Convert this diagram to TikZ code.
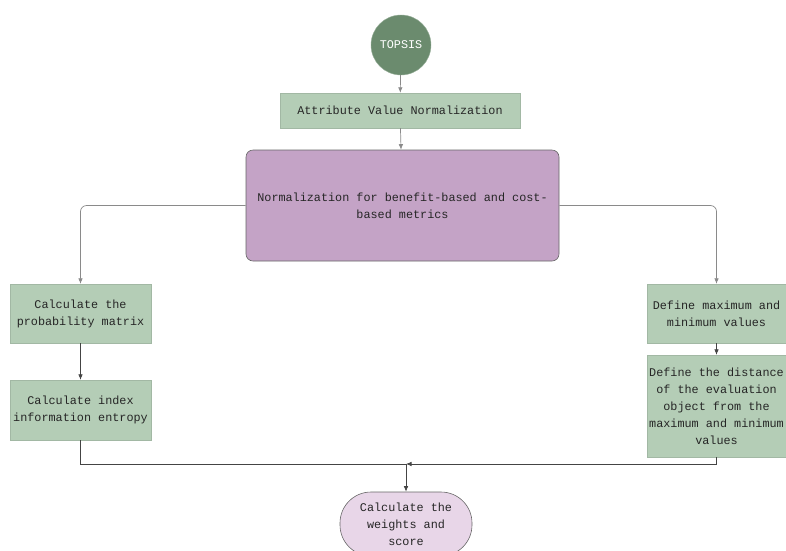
\documentclass[tikz,border=0pt]{standalone}
\usepackage{fontspec}
\setmonofont{Liberation Mono}
\usetikzlibrary{arrows.meta}
\definecolor{dkgreen}{HTML}{6B8B6E}
\definecolor{ltgreen}{HTML}{B4CDB6}
\definecolor{purp}{HTML}{C4A3C6}
\definecolor{ltpurp}{HTML}{E8D6E8}
\definecolor{lgray}{HTML}{8A8A8A}
\definecolor{dgray}{HTML}{444444}
\tikzset{
  base/.style={font=\ttfamily\fontsize{11.8}{17}\selectfont, align=center, inner sep=0pt, text=black!85},
  gbox/.style={base, fill=ltgreen, draw=ltgreen!90!black, line width=0.3pt},
  pbox/.style={base, fill=purp, draw=black!60, rounded corners=7pt, line width=0.6pt},
  topc/.style={base, circle, fill=dkgreen, draw=dkgreen!70!white, text=white, minimum size=60pt},
  term/.style={base, rounded corners=31pt, fill=ltpurp, draw=black!60, line width=0.6pt},
  la/.style={draw=lgray, line width=0.7pt, -{Latex[length=5.5pt,width=4.5pt]}},
  da/.style={draw=dgray, line width=0.7pt, -{Latex[length=5.5pt,width=4.5pt]}},
  dl/.style={draw=dgray, line width=0.7pt}
}
\begin{document}
\begin{tikzpicture}[x=1pt,y=-1pt]
\useasboundingbox (0,0) rectangle (786,550);
\node[topc] (t) at (401,45) {TOPSIS};
\node[gbox, minimum width=240pt, minimum height=35pt] (a) at (400,110.5) {Attribute Value Normalization};
\node[pbox, minimum width=313pt, minimum height=111pt] (p) at (402.5,205.5) {Normalization for benefit-based and cost-\\based metrics};
\node[gbox, minimum width=141pt, minimum height=59pt] (l1) at (80.5,313.5) {Calculate the\\probability matrix};
\node[gbox, minimum width=141pt, minimum height=60pt] (l2) at (80.5,410) {Calculate index\\information entropy};
\node[gbox, minimum width=139pt, minimum height=59pt] (r1) at (716.5,313.5) {Define maximum and\\minimum values};
\node[gbox, minimum width=139pt, minimum height=102pt] (r2) at (716.5,406) {Define the distance\\of the evaluation\\object from the\\maximum and minimum\\values};
\node[term, minimum width=132pt, minimum height=64pt] (e) at (406,524) {Calculate the\\weights and\\score};
\coordinate (m) at (406,464);
\draw[la] (t) -- (a);
\draw[la] (a) -- (p);
\draw[la, rounded corners=6pt] (p.west) -| (l1.north);
\draw[la, rounded corners=6pt] (p.east) -| (r1.north);
\draw[da] (l1) -- (l2);
\draw[da] (r1) -- (r2);
\draw[dl] (l2.south) |- (m);
\draw[da] (r2.south) |- (m);
\draw[da] (m) -- (e.north);
\end{tikzpicture}
\end{document}
